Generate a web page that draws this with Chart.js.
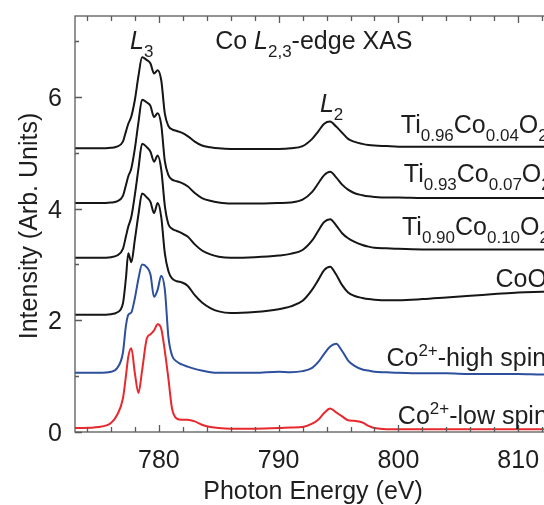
<!DOCTYPE html>
<html>
<head>
<meta charset="utf-8">
<script src="https://cdn.jsdelivr.net/npm/chart.js@4.4.1/dist/chart.umd.min.js"></script>
<style>
  html, body { margin: 0; padding: 0; background: #fff; overflow: hidden; }
  #wrap { width: 660px; height: 505px; }
</style>
</head>
<body>
<div id="wrap"><canvas id="xasChart" width="660" height="505"></canvas></div>
<script>
// photon energy grid (eV), shared by all spectra
const energy = [
  773, 775, 776, 776.5, 777, 777.25, 777.45, 777.7, 778.0, 778.3,
  778.6, 779.0, 779.3, 779.6, 779.9, 780.2, 780.5, 780.8, 781.1, 781.5,
  781.9, 782.4, 783.0, 783.6, 784.3, 785, 786, 788, 790, 791,
  792, 792.8, 793.3, 793.8, 794.3, 794.8, 795.3, 795.8, 796.3, 797,
  797.5, 798, 799, 800, 802, 804, 806, 808, 810, 812,
  814, 816, 818, 820
];

// stacked intensities (arb. units, already offset)
const ti096 = [
  5.08, 5.08, 5.09, 5.11, 5.2, 5.38, 5.52, 5.65, 5.95, 6.38,
  6.71, 6.66, 6.6, 6.42, 6.48, 6.3, 5.7, 5.48, 5.42, 5.39,
  5.36, 5.3, 5.2, 5.13, 5.1, 5.08, 5.07, 5.07, 5.07, 5.08,
  5.12, 5.25, 5.38, 5.52, 5.56, 5.47, 5.36, 5.25, 5.2, 5.16,
  5.14, 5.13, 5.12, 5.11, 5.11, 5.11, 5.11, 5.11, 5.11, 5.11,
  5.11, 5.11, 5.11, 5.11
];
const ti093 = [
  4.1, 4.1, 4.11, 4.13, 4.23, 4.42, 4.58, 4.72, 5.08, 5.55,
  5.95, 5.9, 5.84, 5.64, 5.71, 5.5, 4.85, 4.6, 4.52, 4.49,
  4.46, 4.4, 4.28, 4.19, 4.14, 4.11, 4.09, 4.09, 4.1, 4.11,
  4.16, 4.3, 4.45, 4.6, 4.66, 4.56, 4.43, 4.34, 4.28, 4.24,
  4.22, 4.21, 4.2, 4.2, 4.19, 4.19, 4.19, 4.19, 4.19, 4.19,
  4.19, 4.19, 4.19, 4.19
];
const ti090 = [
  3.12, 3.12, 3.13, 3.16, 3.28, 3.5, 3.68, 3.85, 4.25, 4.72,
  5.16, 5.1, 5.02, 4.84, 4.95, 4.7, 4.05, 3.72, 3.64, 3.6,
  3.56, 3.5, 3.36, 3.25, 3.18, 3.14, 3.12, 3.13, 3.16, 3.19,
  3.26, 3.43, 3.6, 3.76, 3.81, 3.7, 3.56, 3.47, 3.41, 3.35,
  3.32, 3.3, 3.29, 3.28, 3.27, 3.27, 3.27, 3.27, 3.27, 3.27,
  3.27, 3.27, 3.27, 3.27
];
const coo = [
  2.1, 2.1, 2.11, 2.14, 2.3, 2.75, 3.2, 3.04, 3.45, 3.9,
  4.27, 4.2, 4.12, 3.92, 4.1, 3.85, 3.2, 2.88, 2.75, 2.7,
  2.68, 2.62, 2.45, 2.32, 2.22, 2.16, 2.13, 2.15, 2.2, 2.25,
  2.35, 2.55, 2.72, 2.9, 2.96, 2.82, 2.63, 2.5, 2.44, 2.4,
  2.38, 2.37, 2.36, 2.36, 2.38, 2.41, 2.44, 2.47, 2.5, 2.51,
  2.52, 2.53, 2.54, 2.55
];
const highSpin = [
  1.06, 1.06, 1.08, 1.14, 1.42, 1.9, 2.1, 2.14, 2.4, 2.75,
  3.0, 2.95, 2.82, 2.42, 2.55, 2.8, 2.55, 1.7, 1.37, 1.26,
  1.21, 1.17, 1.13, 1.1, 1.07, 1.06, 1.06, 1.06, 1.08, 1.07,
  1.09, 1.15, 1.25, 1.4, 1.53, 1.58, 1.45, 1.28, 1.19, 1.12,
  1.1, 1.08, 1.07, 1.06, 1.05, 1.05, 1.04, 1.04, 1.04, 1.03,
  1.03, 1.03, 1.03, 1.03
];
const lowSpin = [
  0.07, 0.09, 0.16, 0.3, 0.6, 1.0, 1.35, 1.5, 1.05, 0.7,
  1.1, 1.68, 1.75, 1.82, 1.93, 1.85, 1.45, 0.95, 0.42, 0.24,
  0.22, 0.22, 0.19, 0.13, 0.09, 0.07, 0.06, 0.06, 0.07, 0.08,
  0.09, 0.15, 0.22, 0.34, 0.42, 0.35, 0.28, 0.21, 0.2, 0.17,
  0.11, 0.07, 0.05, 0.05, 0.05, 0.05, 0.05, 0.05, 0.05, 0.05,
  0.05, 0.05, 0.05, 0.05
];

const xTickLabels = [780, 790, 800, 810, 820];
const yTickLabels = [0, 2, 4, 6];

const FONT = "'Liberation Sans', Arial, Helvetica, sans-serif";
const TEXT = "#1e1e1e";

// rich text pieces: [text, style]  style: "", "sub", "sup", "it"
const notes = [
  { e: 777.6, v: 6.86, parts: [["L", "it"], ["3", "sub"]] },
  { e: 784.7, v: 6.86, parts: [["Co ", ""], ["L", "it"], ["2,3", "sub"], ["-edge XAS", ""]] },
  { e: 793.45, v: 5.73, parts: [["L", "it"], ["2", "sub"]] },
  { e: 800.2, v: 5.35, parts: [["Ti", ""], ["0.96", "sub"], ["Co", ""], ["0.04", "sub"], ["O", ""], ["2", "sub"]] },
  { e: 800.45, v: 4.48, parts: [["Ti", ""], ["0.93", "sub"], ["Co", ""], ["0.07", "sub"], ["O", ""], ["2", "sub"]] },
  { e: 800.3, v: 3.53, parts: [["Ti", ""], ["0.90", "sub"], ["Co", ""], ["0.10", "sub"], ["O", ""], ["2", "sub"]] },
  { e: 808.1, v: 2.6, parts: [["CoO", ""]] },
  { e: 799.0, v: 1.18, parts: [["Co", ""], ["2+", "sup"], ["-high spin", ""]] },
  { e: 799.95, v: 0.14, parts: [["Co", ""], ["2+", "sup"], ["-low spin", ""]] }
];

function drawRich(ctx, x, y, parts) {
  let cx = x;
  parts.forEach(([txt, style]) => {
    let dy = 0;
    if (style === "sub") {
      ctx.font = "17px " + FONT;
      dy = 8;
    } else if (style === "sup") {
      ctx.font = "17px " + FONT;
      dy = -10;
    } else if (style === "it") {
      ctx.font = "italic 25px " + FONT;
    } else {
      ctx.font = "25px " + FONT;
    }
    ctx.fillText(txt, cx, y + dy);
    cx += ctx.measureText(txt).width;
  });
}

const frameAndText = {
  id: "frameAndText",
  afterDraw(chart) {
    const ctx = chart.ctx;
    const a = chart.chartArea;
    const xs = chart.scales.x;
    const ys = chart.scales.y;

    ctx.save();
    ctx.strokeStyle = "#5a5a5a";
    ctx.lineWidth = 1.3;
    ctx.strokeRect(a.left, a.top, a.right - a.left, a.bottom - a.top);

    // inward ticks
    ctx.beginPath();
    xs.ticks.forEach(t => {
      const px = Math.round(xs.getPixelForValue(t.value)) + 0.5;
      const len = t.value % 10 === 0 ? 7 : 5;
      ctx.moveTo(px, a.bottom); ctx.lineTo(px, a.bottom - len);
      ctx.moveTo(px, a.top); ctx.lineTo(px, a.top + len);
    });
    ys.ticks.forEach(t => {
      const py = Math.round(ys.getPixelForValue(t.value)) + 0.5;
      const len = t.value % 2 === 0 ? 7 : 4;
      ctx.moveTo(a.left, py); ctx.lineTo(a.left + len, py);
    });
    ctx.stroke();

    // tick labels
    ctx.fillStyle = TEXT;
    ctx.font = "25px " + FONT;
    ctx.textBaseline = "alphabetic";
    ctx.textAlign = "center";
    xTickLabels.forEach(v => {
      ctx.fillText(String(v), xs.getPixelForValue(v), a.bottom + 36);
    });
    ctx.textAlign = "right";
    yTickLabels.forEach(v => {
      ctx.fillText(String(v), a.left - 13, ys.getPixelForValue(v) + 9);
    });

    // annotations
    ctx.textAlign = "left";
    notes.forEach(n => {
      drawRich(ctx, xs.getPixelForValue(n.e), ys.getPixelForValue(n.v), n.parts);
    });

    // axis titles
    ctx.font = "25px " + FONT;
    ctx.textAlign = "center";
    ctx.fillText("Photon Energy (eV)", 313, 499);
    ctx.save();
    ctx.translate(37, 226);
    ctx.rotate(-Math.PI / 2);
    ctx.fillText("Intensity (Arb. Units)", 0, 0);
    ctx.restore();
    ctx.restore();
  }
};

function series(values, color) {
  return {
    data: values.map((v, i) => ({ x: energy[i], y: v })),
    borderColor: color,
    borderWidth: 2,
    pointRadius: 0,
    fill: false,
    cubicInterpolationMode: "monotone"
  };
}

// thin coloured dashes seen on the steep L3 edges of the stacked spectra
function edgeDash(values, color) {
  const pts = [];
  values.forEach((v, i) => {
    if (energy[i] >= 777.25 && energy[i] <= 780.8) pts.push({ x: energy[i], y: v });
  });
  return {
    data: pts,
    borderColor: color,
    borderWidth: 1,
    borderDash: [2, 2],
    pointRadius: 0,
    fill: false,
    cubicInterpolationMode: "monotone"
  };
}

new Chart(document.getElementById("xasChart"), {
  type: "line",
  data: {
    datasets: [
      series(lowSpin, "#e8282c"),
      series(highSpin, "#2d4f9e"),
      series(coo, "#161616"),
      series(ti090, "#161616"),
      series(ti093, "#161616"),
      series(ti096, "#161616"),
      edgeDash(coo, "#d04050"),
      edgeDash(ti090, "#4060b0"),
      edgeDash(ti093, "#30a050"),
      edgeDash(ti096, "#d04050")
    ]
  },
  options: {
    responsive: false,
    animation: false,
    events: [],
    layout: { padding: { top: 16, right: 22, left: 0, bottom: 0 } },
    plugins: {
      legend: { display: false },
      tooltip: { enabled: false }
    },
    scales: {
      x: {
        type: "linear",
        min: 773,
        max: 820,
        afterFit: s => { s.height = 73; },
        grid: { display: false, drawTicks: false },
        border: { display: false },
        ticks: { display: false, stepSize: 2, includeBounds: false, autoSkip: false }
      },
      y: {
        min: 0,
        max: 7.45,
        afterFit: s => { s.width = 75; },
        grid: { display: false, drawTicks: false },
        border: { display: false },
        ticks: { display: false, stepSize: 1, includeBounds: false, autoSkip: false }
      }
    }
  },
  plugins: [frameAndText]
});
</script>
</body>
</html>
